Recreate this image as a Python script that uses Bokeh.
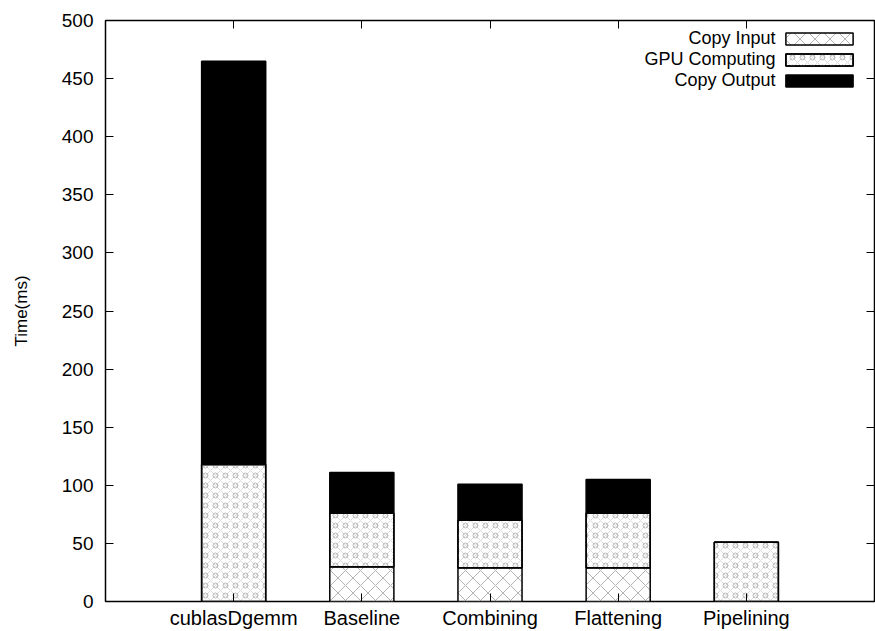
import numpy as np
from bokeh.plotting import figure
from bokeh.models import (ColumnDataSource, Range1d, FixedTicker, LinearAxis,
                          Legend, LegendItem, Label)
from bokeh.core.properties import value
from bokeh.embed import file_html
from bokeh.resources import INLINE

# Execution time breakdown per implementation (ms)
categories = ["cublasDgemm", "Baseline", "Combining", "Flattening", "Pipelining"]
copy_input = [0, 30, 29, 29, 0]
gpu_computing = [118, 46, 41, 47, 51]
copy_output = [347, 35, 31, 29, 0]
y_ticks = [0, 50, 100, 150, 200, 250, 300, 350, 400, 450, 500]
series_names = ["Copy Input", "GPU Computing", "Copy Output"]

FONT = "Liberation Sans"

xpos = np.arange(len(categories))
inp = np.array(copy_input, dtype=float)
gpu = np.array(gpu_computing, dtype=float)
out = np.array(copy_output, dtype=float)

src = ColumnDataSource(dict(
    x=xpos,
    in_bottom=np.zeros_like(inp), in_top=inp,
    gpu_bottom=inp, gpu_top=inp + gpu,
    out_bottom=inp + gpu, out_top=inp + gpu + out,
))

p = figure(width=875, height=631, output_backend="svg", toolbar_location=None,
           x_range=Range1d(-1, 5), y_range=Range1d(0, 500),
           min_border_left=105, min_border_right=1, min_border_top=20,
           min_border_bottom=30)
p.background_fill_color = "white"
p.border_fill_color = "white"
p.outline_line_color = "black"
p.outline_line_width = 1.5
p.xgrid.visible = False
p.ygrid.visible = False

BAR_W = 0.5
common = dict(x="x", width=BAR_W, source=src, line_color="black", line_width=1.5)

r_in = p.vbar(bottom="in_bottom", top="in_top", fill_color="white",
              hatch_pattern="diagonal_cross", hatch_color="#b4b4b4",
              hatch_scale=15, hatch_weight=1.0, **common)
r_gpu_a = p.vbar(bottom="gpu_bottom", top="gpu_top", fill_color="white",
                 hatch_pattern="diagonal_cross", hatch_color="#dadada",
                 hatch_scale=10, hatch_weight=1.0, **common)
r_gpu_b = p.vbar(bottom="gpu_bottom", top="gpu_top", fill_alpha=0,
                 hatch_pattern="ring", hatch_color="#b8b8b8",
                 hatch_scale=10, hatch_weight=1.0, **common)
r_out = p.vbar(bottom="out_bottom", top="out_top", fill_color="black", **common)

# Axes: labelled left/bottom, mirrored ticks on top/right
yax = p.yaxis[0]
yax.ticker = FixedTicker(ticks=y_ticks)
yax.major_tick_in = 8
yax.major_tick_out = 0
yax.minor_tick_line_color = None
yax.axis_line_color = None
yax.major_label_standoff = 12
yax.major_label_text_font = FONT
yax.major_label_text_font_size = "19px"
yax.major_label_text_color = "black"
yax.axis_label = "Time(ms)"
yax.axis_label_text_font = FONT
yax.axis_label_text_font_size = "17px"
yax.axis_label_text_font_style = "normal"
yax.axis_label_text_color = "black"
yax.axis_label_standoff = 28

xax = p.xaxis[0]
xax.ticker = FixedTicker(ticks=list(xpos))
xax.major_label_overrides = {int(i): c for i, c in zip(xpos, categories)}
xax.major_tick_in = 8
xax.major_tick_out = 0
xax.minor_tick_line_color = None
xax.axis_line_color = None
xax.major_label_standoff = 5
xax.major_label_text_font = FONT
xax.major_label_text_font_size = "20px"
xax.major_label_text_color = "black"

# Mirror axes carry ticks only: their labels are switched off (no colour)
mirror = dict(major_tick_in=8, major_tick_out=0, minor_tick_line_color=None,
              axis_line_color=None, major_label_text_font_size="1px",
              major_label_text_color=None, major_label_standoff=0)
p.add_layout(LinearAxis(ticker=FixedTicker(ticks=y_ticks), **mirror), "right")
p.add_layout(LinearAxis(ticker=FixedTicker(ticks=list(xpos)), **mirror), "above")

# Key: text right-aligned, swatches to its right (swatch is drawn 10% inset)
legend = Legend(items=[
    LegendItem(label=value(""), renderers=[r_in]),
    LegendItem(label=value(""), renderers=[r_gpu_a, r_gpu_b]),
    LegendItem(label=value(""), renderers=[r_out]),
], location=(672, 513), glyph_width=84, glyph_height=15, label_width=0,
   label_height=15, label_standoff=0, spacing=6, padding=0, margin=0,
   border_line_color=None, background_fill_alpha=0,
   label_text_font_size="1px", label_text_color=None)
p.add_layout(legend, "center")

for name, sy in zip(series_names, [564, 543, 522]):
    p.add_layout(Label(x=670, y=sy, x_units="screen", y_units="screen",
                       text=name, text_align="right", text_baseline="middle",
                       text_font=FONT, text_font_size="18px",
                       text_color="black"))

open("out.html", "w").write(file_html(p, INLINE))
